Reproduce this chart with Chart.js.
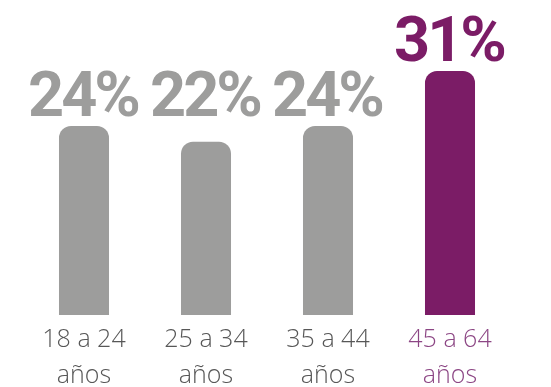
<!DOCTYPE html>
<html>
<head>
<meta charset="utf-8">
<script src="https://cdn.jsdelivr.net/npm/chart.js@4"></script>
<style>
    html, body { margin: 0; padding: 0; background: #ffffff; }
    #wrap { width: 551px; height: 387px; position: relative; }
</style>
</head>
<body>
<div id="wrap"><canvas id="edadChart"></canvas></div>
<script>
var edades = [['18 a 24', 'años'], ['25 a 34', 'años'], ['35 a 44', 'años'], ['45 a 64', 'años']];
var porcentajes = [24, 22, 24, 31];
var coloresBarra = ['#9d9d9c', '#9d9d9c', '#9d9d9c', '#7b1c66'];
var coloresTexto = ['#575757', '#575757', '#575757', '#8c4684'];

// porcentaje grande encima de cada barra (las grises comparten linea)
var etiquetas = {
    id: 'etiquetas',
    afterDatasetsDraw: function (chart) {
        var ctx = chart.ctx;
        var barras = chart.getDatasetMeta(0).data;
        var topeGris = Infinity;
        barras.forEach(function (b, i) {
            if (coloresBarra[i] === coloresBarra[0]) topeGris = Math.min(topeGris, b.y);
        });
        ctx.save();
        ctx.font = 'bold 63px Roboto';
        ctx.letterSpacing = '-3px';
        ctx.textAlign = 'center';
        ctx.textBaseline = 'alphabetic';
        barras.forEach(function (b, i) {
            var gris = coloresBarra[i] === coloresBarra[0];
            var y = (gris ? topeGris : b.y) - 10;
            ctx.fillStyle = coloresBarra[i];
            ctx.fillText(porcentajes[i] + '%', b.x - 1, y);
        });
        ctx.restore();
    }
};

var ctx = document.getElementById('edadChart').getContext('2d');
var edadChart = new Chart(ctx, {
    type: 'bar',
    data: {
        labels: edades,
        datasets: [{
            data: porcentajes,
            backgroundColor: coloresBarra,
            borderWidth: 0,
            borderRadius: { topLeft: 12, topRight: 12, bottomLeft: 0, bottomRight: 0 },
            borderSkipped: false,
            barPercentage: 0.41,
            categoryPercentage: 1
        }]
    },
    options: {
        responsive: true,
        maintainAspectRatio: false,
        animation: false,
        layout: {
            padding: { left: 23, right: 40, top: 0, bottom: 0 }
        },
        scales: {
            x: {
                grid: { display: false, drawTicks: false },
                border: { display: false },
                ticks: {
                    color: coloresTexto,
                    padding: 7,
                    font: { family: 'Open Sans', size: 25, weight: 300, lineHeight: 1.44 }
                },
                afterFit: function (scale) {
                    scale.height = 72;
                }
            },
            y: {
                display: false,
                min: 0,
                max: 40
            }
        },
        plugins: {
            legend: { display: false },
            tooltip: { enabled: false }
        }
    },
    plugins: [etiquetas]
});
</script>
</body>
</html>
